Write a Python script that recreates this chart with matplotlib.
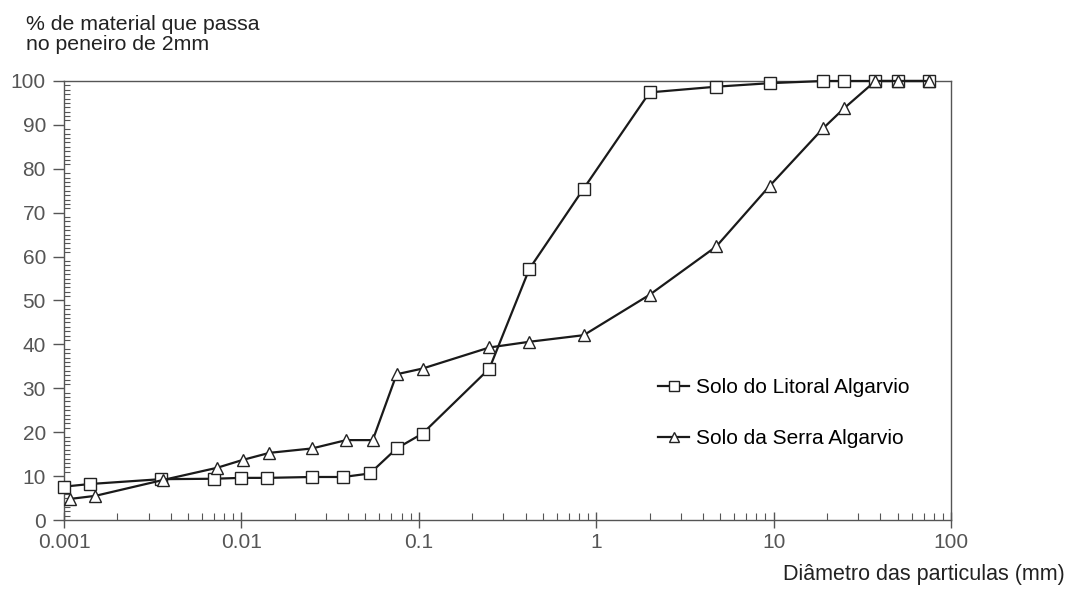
import matplotlib.pyplot as plt
from matplotlib.ticker import MultipleLocator, FixedLocator, LogLocator, NullFormatter

plt.rcParams['font.family'] = ['Liberation Sans', 'DejaVu Sans']

# Solo do Litoral Algarvio (squares)
litoral_d = [0.001, 0.0014, 0.0035, 0.007, 0.01, 0.014, 0.025, 0.0375, 0.053,
             0.075, 0.105, 0.25, 0.42, 0.85, 2.0, 4.75, 9.5, 19, 25, 37.5, 50, 75]
litoral_p = [7.6, 8.2, 9.3, 9.4, 9.6, 9.6, 9.8, 9.8, 10.6,
             16.3, 19.7, 34.5, 57.2, 75.5, 97.4, 98.7, 99.5, 100, 100, 100, 100, 100]

# Solo da Serra Algarvio (triangles)
serra_d = [0.00108, 0.0015, 0.0036, 0.0073, 0.0102, 0.0144, 0.025, 0.039, 0.055,
           0.075, 0.105, 0.25, 0.42, 0.85, 2.0, 4.75, 9.5, 19, 25, 37.5, 50, 75]
serra_p = [4.8, 5.5, 9.1, 11.9, 13.7, 15.3, 16.3, 18.2, 18.2,
           33.2, 34.5, 39.3, 40.6, 42.1, 51.3, 62.3, 76.1, 89.2, 93.8, 100, 100, 100]

x_ticks = [0.001, 0.01, 0.1, 1, 10, 100]
x_labels = ['0.001', '0.01', '0.1', '1', '10', '100']

fig = plt.figure(figsize=(10.7, 5.92), dpi=100)
ax = fig.add_axes([0.0598, 0.1216, 0.8290, 0.7416])

line_kw = dict(color='#1a1a1a', linewidth=1.6, markersize=8.5,
               markerfacecolor='white', markeredgecolor='#222222', markeredgewidth=1.0,
               clip_on=False)
ax.plot(litoral_d, litoral_p, marker='s', label='Solo do Litoral Algarvio', zorder=3, **line_kw)
ax.plot(serra_d, serra_p, marker='^', label='Solo da Serra Algarvio', zorder=3, **line_kw)

ax.set_xscale('log')
ax.set_xlim(0.001, 100)
ax.set_ylim(0, 100)

ax.xaxis.set_major_locator(FixedLocator(x_ticks))
ax.set_xticklabels(x_labels)
ax.xaxis.set_minor_locator(LogLocator(base=10, subs=range(2, 10), numticks=20))
ax.xaxis.set_minor_formatter(NullFormatter())
ax.yaxis.set_major_locator(MultipleLocator(10))
ax.yaxis.set_minor_locator(MultipleLocator(1))

for s in ax.spines.values():
    s.set_color('#555555')
    s.set_linewidth(1.0)

ax.tick_params(axis='y', which='major', direction='out', length=8, width=1,
               color='#555555', labelsize=15, labelcolor='#555555', pad=5)
ax.tick_params(axis='y', which='minor', direction='in', length=4, width=0.8, color='#555555')
ax.tick_params(axis='x', which='major', direction='inout', length=12, width=1,
               color='#555555', labelsize=15, labelcolor='#555555', pad=3)
ax.tick_params(axis='x', which='minor', direction='in', length=5, width=0.8, color='#555555')

fig.text(0.024, 0.975, '% de material que passa\nno peneiro de 2mm', ha='left', va='top',
         fontsize=15.3, color='#222222', linespacing=1.1)
fig.text(0.995, 0.012, 'Diâmetro das particulas (mm)', ha='right', va='bottom',
         fontsize=15.5, color='#222222')

ax.legend(loc='upper left', bbox_to_anchor=(0.649, 0.366), frameon=False, fontsize=15,
          handlelength=1.45, handletextpad=0.35, labelspacing=1.55, markerscale=0.8)

fig.savefig('out.png', dpi=100)
